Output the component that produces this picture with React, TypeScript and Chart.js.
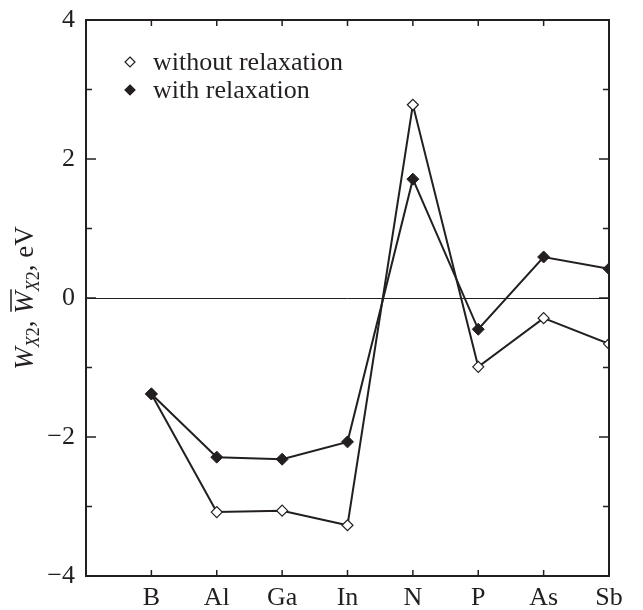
import React, { useEffect, useRef } from 'react';
import { Chart, registerables } from 'chart.js';

Chart.register(...registerables);

const categories = ['B', 'Al', 'Ga', 'In', 'N', 'P', 'As', 'Sb'];
const withoutRelaxation = [-1.38, -3.08, -3.06, -3.27, 2.78, -0.99, -0.29, -0.66];
const withRelaxation = [-1.38, -2.29, -2.32, -2.07, 1.71, -0.45, 0.59, 0.42];
const yTickLabels = [-4, -2, 0, 2, 4];
const legendLabels = ['without relaxation', 'with relaxation'];

const FONT = '"Liberation Serif", "Times New Roman", serif';
const INK = '#231f20';

const framePlugin = {
  id: 'framePlugin',
  afterDraw(chart: any) {
    const { ctx, chartArea, scales } = chart;
    const { left, right, top, bottom } = chartArea;
    const x = scales.x;
    const y = scales.y;
    ctx.save();
    ctx.strokeStyle = INK;
    ctx.lineWidth = 2;
    ctx.strokeRect(left, top, right - left, bottom - top);

    ctx.lineWidth = 1.5;
    ctx.beginPath();
    for (let v = -4; v <= 4; v++) {
      const py = y.getPixelForValue(v);
      const len = v % 2 === 0 ? 10 : 6;
      ctx.moveTo(left, py);
      ctx.lineTo(left + len, py);
      ctx.moveTo(right, py);
      ctx.lineTo(right - len, py);
    }
    for (let i = 1; i <= categories.length; i++) {
      const px = x.getPixelForValue(i);
      ctx.moveTo(px, bottom);
      ctx.lineTo(px, bottom - 6);
      ctx.moveTo(px, top);
      ctx.lineTo(px, top + 6);
    }
    ctx.stroke();

    // legend
    const lx = left + 44;
    const rows = [
      { label: legendLabels[0], fill: '#ffffff', y: top + 42 },
      { label: legendLabels[1], fill: INK, y: top + 70 },
    ];
    ctx.font = `26px ${FONT}`;
    ctx.textBaseline = 'middle';
    ctx.textAlign = 'left';
    for (const r of rows) {
      const s = 5;
      ctx.beginPath();
      ctx.moveTo(lx, r.y - s);
      ctx.lineTo(lx + s, r.y);
      ctx.lineTo(lx, r.y + s);
      ctx.lineTo(lx - s, r.y);
      ctx.closePath();
      ctx.fillStyle = r.fill;
      ctx.fill();
      ctx.lineWidth = 1.2;
      ctx.strokeStyle = INK;
      ctx.stroke();
      ctx.fillStyle = INK;
      ctx.fillText(r.label, lx + 23, r.y + 1);
    }

    // y-axis title
    const big = 27;
    const small = 18;
    const pieces = [
      { t: 'W', f: `italic ${big}px ${FONT}`, dy: 0, over: false },
      { t: 'X', f: `italic ${small}px ${FONT}`, dy: 6, over: false },
      { t: '2', f: `${small}px ${FONT}`, dy: 6, over: false },
      { t: ', ', f: `${big}px ${FONT}`, dy: 0, over: false },
      { t: 'W', f: `italic ${big}px ${FONT}`, dy: 0, over: true },
      { t: 'X', f: `italic ${small}px ${FONT}`, dy: 6, over: false },
      { t: '2', f: `${small}px ${FONT}`, dy: 6, over: false },
      { t: ', eV', f: `${big}px ${FONT}`, dy: 0, over: false },
    ];
    let total = 0;
    const widths = pieces.map((p) => {
      ctx.font = p.f;
      const w = ctx.measureText(p.t).width;
      total += w;
      return w;
    });
    ctx.translate(33, (top + bottom) / 2);
    ctx.rotate(-Math.PI / 2);
    ctx.textBaseline = 'alphabetic';
    ctx.fillStyle = INK;
    let cx = -total / 2;
    pieces.forEach((p, i) => {
      ctx.font = p.f;
      ctx.fillText(p.t, cx, p.dy);
      if (p.over) {
        ctx.beginPath();
        ctx.lineWidth = 1.5;
        ctx.moveTo(cx + 2, -22);
        ctx.lineTo(cx + widths[i] + 2, -22);
        ctx.stroke();
      }
      cx += widths[i];
    });
    ctx.restore();
  },
};

export default function App() {
  const ref = useRef<HTMLCanvasElement | null>(null);

  useEffect(() => {
    if (!ref.current) return;
    const chart = new Chart(ref.current, {
      type: 'line',
      data: {
        datasets: [
          {
            label: legendLabels[1],
            data: withRelaxation.map((v, i) => ({ x: i + 1, y: v })),
            borderColor: INK,
            borderWidth: 2,
            pointStyle: 'rectRot',
            pointRadius: 6,
            pointBackgroundColor: INK,
            pointBorderColor: INK,
            pointBorderWidth: 1,
          },
          {
            label: legendLabels[0],
            data: withoutRelaxation.map((v, i) => ({ x: i + 1, y: v })),
            borderColor: INK,
            borderWidth: 2,
            pointStyle: 'rectRot',
            pointRadius: 5.5,
            pointBackgroundColor: '#ffffff',
            pointBorderColor: INK,
            pointBorderWidth: 1.2,
          },
        ],
      },
      options: {
        animation: false,
        responsive: false,
        layout: { padding: { left: 0, right: 34, top: 20, bottom: 0 } },
        plugins: { legend: { display: false }, tooltip: { enabled: false } },
        scales: {
          x: {
            type: 'linear',
            min: 0,
            max: 8,
            afterFit: (s: any) => {
              s.height = 34;
              s.paddingLeft = 0;
              s.paddingRight = 0;
            },
            ticks: {
              stepSize: 1,
              autoSkip: false,
              maxRotation: 0,
              padding: 7,
              color: INK,
              font: { family: FONT, size: 26 },
              callback: (v: any) => (v >= 1 && v <= categories.length ? categories[v - 1] : ''),
            },
            grid: { display: false, drawTicks: false },
            border: { display: false },
          },
          y: {
            type: 'linear',
            min: -4,
            max: 4,
            afterFit: (s: any) => {
              s.width = 86;
              s.paddingTop = 0;
              s.paddingBottom = 0;
            },
            ticks: {
              stepSize: 1,
              padding: 11,
              color: INK,
              font: { family: FONT, size: 26 },
              callback: (v: any) =>
                yTickLabels.includes(v) ? String(v).replace('-', '\u2212') : '',
            },
            grid: {
              drawTicks: false,
              lineWidth: 1,
              color: (c: any) => (c.tick && c.tick.value === 0 ? INK : 'rgba(0,0,0,0)'),
            },
            border: { display: false },
          },
        },
      },
      plugins: [framePlugin],
    });
    return () => chart.destroy();
  }, []);

  return (
    <div style={{ position: 'absolute', left: 0, top: 0, width: 643, height: 610, background: '#fff' }}>
      <canvas ref={ref} width={643} height={610} style={{ display: 'block' }} />
    </div>
  );
}
